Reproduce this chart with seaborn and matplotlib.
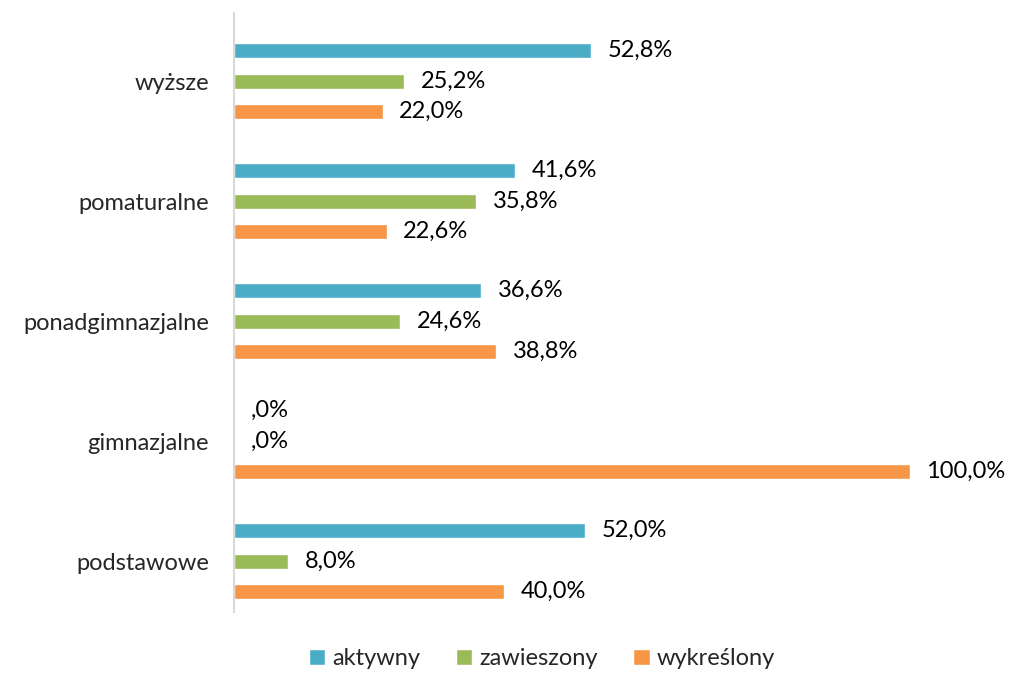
import pandas as pd
import matplotlib.pyplot as plt
import seaborn as sns

# education levels and share per status (%)
categories = ["wyższe", "pomaturalne", "ponadgimnazjalne", "gimnazjalne", "podstawowe"]
aktywny = [52.8, 41.6, 36.6, 0.0, 52.0]
zawieszony = [25.2, 35.8, 24.6, 0.0, 8.0]
wykreslony = [22.0, 22.6, 38.8, 100.0, 40.0]
statuses = ["aktywny", "zawieszony", "wykreślony"]
colors = ["#4BACC6", "#9BBB59", "#F79646"]

rows = []
for status, vals in zip(statuses, [aktywny, zawieszony, wykreslony]):
    for cat, v in zip(categories, vals):
        rows.append({"kat": cat, "status": status, "val": v})
df = pd.DataFrame(rows)

sns.set_style("white")
plt.rcParams["font.family"] = ["Lato", "DejaVu Sans"]

fig = plt.figure(figsize=(10.09, 6.75), dpi=100)
ax = fig.add_axes([0.2319, 0.0933, 0.73, 0.8874])

sns.barplot(data=df, y="kat", x="val", hue="status", order=categories,
            hue_order=statuses, palette=colors, saturation=1, orient="h",
            width=0.762, gap=0.508, ax=ax, legend=True)


def fmt(v):
    s = f"{v:.1f}".replace(".", ",")
    if v == 0:
        s = s.lstrip("0")
    return s + "%"


for cont in ax.containers:
    ax.bar_label(cont, labels=[fmt(b.get_width()) for b in cont],
                 padding=12, fontsize=17, color="#000000")

ax.set_xlim(0, 109)
ax.set_ylim(4.425, -0.567)
ax.set_xlabel("")
ax.set_ylabel("")
ax.set_xticks([])
ax.tick_params(axis="y", length=0, labelsize=17, pad=18)
for s in ["top", "right", "bottom"]:
    ax.spines[s].set_visible(False)
ax.spines["left"].set_color("#D9D9D9")
ax.spines["left"].set_linewidth(1.5)

ax.legend(loc="center", bbox_to_anchor=(0.537, 0.024), bbox_transform=fig.transFigure,
          ncol=3, frameon=False, fontsize=17, handlelength=0.7, handleheight=0.7,
          handletextpad=0.3, columnspacing=1.5, borderpad=0.1)

fig.savefig("out.png", dpi=100)
